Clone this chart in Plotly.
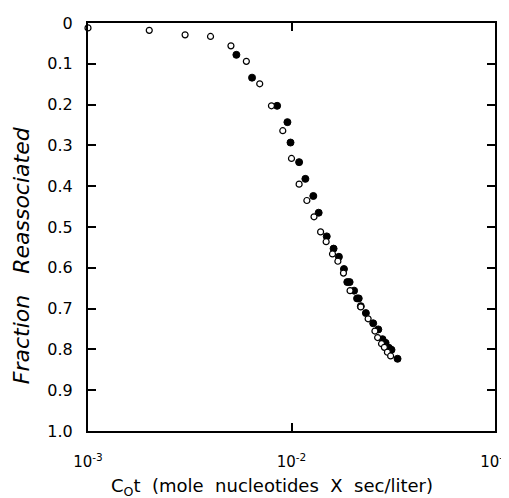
import plotly.graph_objects as go

open_x = [1.0e-3, 2.0e-3, 3.0e-3, 4.0e-3, 5.04e-3, 6.0e-3, 6.98e-3, 7.97e-3, 9.06e-3, 1.0e-2,
          1.09e-2, 1.19e-2, 1.29e-2, 1.39e-2, 1.48e-2, 1.59e-2, 1.69e-2, 1.80e-2, 1.94e-2,
          2.19e-2, 2.38e-2, 2.57e-2, 2.65e-2, 2.77e-2, 2.86e-2, 2.96e-2, 3.07e-2]
open_y = [0.012, 0.018, 0.029, 0.033, 0.056, 0.094, 0.149, 0.203, 0.264, 0.332,
          0.395, 0.435, 0.475, 0.512, 0.536, 0.566, 0.584, 0.613, 0.656,
          0.696, 0.725, 0.755, 0.771, 0.786, 0.795, 0.807, 0.816]

filled_x = [5.36e-3, 6.4e-3, 8.5e-3, 9.55e-3, 9.89e-3, 1.09e-2, 1.17e-2, 1.28e-2, 1.36e-2,
            1.49e-2, 1.61e-2, 1.71e-2, 1.81e-2, 1.88e-2, 1.93e-2, 2.03e-2, 2.10e-2, 2.14e-2,
            2.19e-2, 2.32e-2, 2.52e-2, 2.67e-2, 2.80e-2, 2.90e-2, 3.01e-2, 3.10e-2, 3.32e-2]
filled_y = [0.078, 0.134, 0.203, 0.243, 0.293, 0.341, 0.382, 0.424, 0.465,
            0.523, 0.553, 0.573, 0.603, 0.635, 0.635, 0.656, 0.675, 0.675,
            0.694, 0.711, 0.736, 0.751, 0.775, 0.784, 0.796, 0.801, 0.823]

x_tickvals = [1e-3, 1e-2, 1e-1]
x_ticktext = ["10<sup>-3</sup>", "10<sup>-2</sup>", "10<sup>-1</sup>"]
y_tickvals = [0, 0.1, 0.2, 0.3, 0.4, 0.5, 0.6, 0.7, 0.8, 0.9, 1.0]
y_ticktext = ["0", "0.1", "0.2", "0.3", "0.4", "0.5", "0.6", "0.7", "0.8", "0.9", "1.0"]

x_title = "C<sub>O</sub>t&nbsp;&nbsp;(mole&nbsp;&nbsp;nucleotides&nbsp;&nbsp;X&nbsp;&nbsp;sec/liter)"
y_title = "<i>Fraction&nbsp;&nbsp;&nbsp;Reassociated</i>"

fig = go.Figure()
fig.add_trace(go.Scatter(x=filled_x, y=filled_y, mode="markers",
                         marker=dict(symbol="circle", size=7, color="black",
                                     line=dict(color="black", width=1)),
                         cliponaxis=False, showlegend=False))
fig.add_trace(go.Scatter(x=open_x, y=open_y, mode="markers",
                         marker=dict(symbol="circle", size=6, color="white",
                                     line=dict(color="black", width=1.2)),
                         cliponaxis=False, showlegend=False))

font = "DejaVu Sans, Verdana, sans-serif"
fig.update_layout(
    width=509, height=498,
    margin=dict(l=80, r=22, t=6, b=75),
    paper_bgcolor="white", plot_bgcolor="white",
    font=dict(family=font, color="black", size=16),
    xaxis=dict(type="log", range=[-3, -1], tickvals=x_tickvals, ticktext=x_ticktext,
               showgrid=False, zeroline=False, showline=True, linecolor="black", linewidth=2,
               mirror="ticks", ticks="inside", ticklen=8, tickwidth=1.5, tickcolor="black",
               tickfont=dict(size=15, color="black"), ticklabelstandoff=16,
               ticklabeloverflow="allow"),
    yaxis=dict(range=[1.0, 0], tickvals=y_tickvals, ticktext=y_ticktext,
               showgrid=False, zeroline=False, showline=True, linecolor="black", linewidth=2,
               mirror="ticks", ticks="inside", ticklen=8, tickwidth=1.5, tickcolor="black",
               tickfont=dict(size=16, color="black"), ticklabelstandoff=10,
               ticklabeloverflow="allow"),
    annotations=[
        dict(text=x_title, xref="paper", yref="paper", x=0.453, y=-0.137,
             xanchor="center", yanchor="middle", showarrow=False,
             font=dict(size=18, color="black", family=font)),
        dict(text=y_title, xref="paper", yref="paper", x=-0.163, y=0.43,
             xanchor="center", yanchor="middle", showarrow=False, textangle=-90,
             font=dict(size=22, color="black", family=font)),
    ],
)

fig.write_html("out.html")
